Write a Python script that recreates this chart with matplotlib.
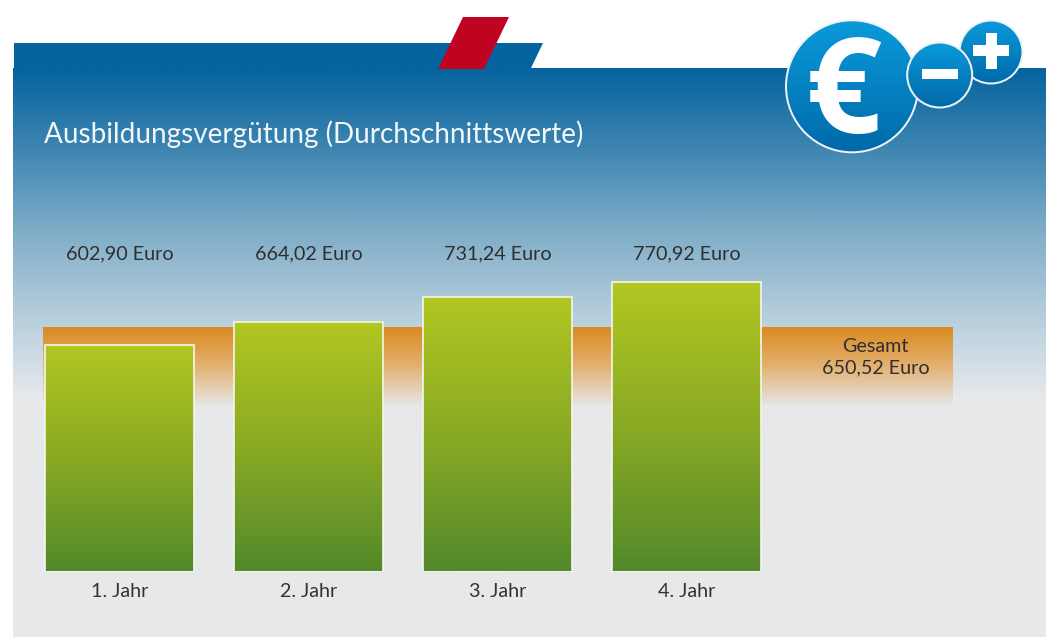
"""
Ausbildungsvergütung: Balken je Lehrjahr plus Gesamtwert als Band dahinter.
"""

import matplotlib
matplotlib.use("Agg")
import matplotlib.pyplot as plt
import numpy as np
from matplotlib import font_manager
from matplotlib.colors import LinearSegmentedColormap
from matplotlib.patches import Circle, Polygon, Rectangle

title = "Ausbildungsvergütung (Durchschnittswerte)"
jahre = ["1. Jahr", "2. Jahr", "3. Jahr", "4. Jahr"]
verguetung = [602.90, 664.02, 731.24, 770.92]
verguetung_txt = ["602,90 Euro", "664,02 Euro", "731,24 Euro", "770,92 Euro"]
gesamt = 650.52
gesamt_txt = "Gesamt\n650,52 Euro"

W, H = 1046, 637
PX_PRO_EURO = 0.3755
BASE_Y = 571.5

names = {f.name for f in font_manager.fontManager.ttflist}
FONT = "Liberation Sans Narrow" if "Liberation Sans Narrow" in names else "Lato"


def ramp(*colors):
    return LinearSegmentedColormap.from_list("r", colors)


def vgrad(ax, extent, cmap, zorder=1, clip=None):
    # senkrechter Verlauf, erste Farbe oben
    g = np.linspace(0, 1, 256).reshape(-1, 1)
    im = ax.imshow(g, extent=extent, cmap=cmap, aspect="auto", origin="upper",
                   zorder=zorder, interpolation="bilinear")
    if clip is not None:
        im.set_clip_path(clip)
    return im


def badge(ax, cx, cy, r, zorder):
    border = Circle((cx, cy), r, fc="#f0f2f3", ec="none", zorder=zorder)
    ax.add_patch(border)
    inner = Circle((cx, cy), r - 2, fc="none", ec="none", zorder=zorder, transform=ax.transData)
    ax.add_patch(inner)
    vgrad(ax, (cx - r, cx + r, cy + r, cy - r), ramp("#0a9bdc", "#0069a9"),
          zorder=zorder + 0.1, clip=inner)


fig = plt.figure(figsize=(W / 100, H / 100), dpi=100, facecolor="white")

# Hintergrund in Pixelkoordinaten
bg = fig.add_axes([0, 0, 1, 1])
bg.set_xlim(0, W)
bg.set_ylim(H, 0)
bg.axis("off")

bg.add_patch(Polygon([(14, 43), (543, 43), (531, 68), (14, 68)], fc="#05639f", ec="none", zorder=1))
vgrad(bg, (13, W, 395, 68), ramp("#05639f", "#3f86b1", "#7fadc8", "#b4cddc", "#e4e8eb"), zorder=1)
bg.add_patch(Rectangle((13, 395), W - 13, H - 395, fc="#e7e8ea", ec="none", zorder=1))
bg.add_patch(Polygon([(463, 17), (509, 17), (484, 69), (438, 69)], fc="#c10322", ec="none", zorder=2))

bg.text(44, 134, title, color="#f2f7fa", fontsize=20.1, family=FONT, va="center", ha="left", zorder=3)

badge(bg, 852, 86.3, 67, 4)
bg.text(843.5, 99, "€", color="white", fontsize=96, family="Open Sans", weight="bold",
        ha="center", va="center", zorder=5)
badge(bg, 991, 52, 32.5, 6)
bg.add_patch(Rectangle((973, 45), 36, 11, fc="white", ec="none", zorder=7))
bg.add_patch(Rectangle((986, 33), 10.5, 36, fc="white", ec="none", zorder=7))
badge(bg, 939.7, 75, 33.5, 8)
bg.add_patch(Rectangle((922, 68.7), 36, 10.5, fc="white", ec="none", zorder=9))
bg.set_xlim(0, W)
bg.set_ylim(H, 0)

# Diagramm: Euro-Skala mit Nulllinie an der Balkenunterkante
ax = fig.add_axes([25 / W, (H - BASE_Y) / H, 945 / W, BASE_Y / H], zorder=2)
ax.patch.set_alpha(0)
for s in ax.spines.values():
    s.set_visible(False)
x = np.arange(len(jahre))
ymax = BASE_Y / PX_PRO_EURO

# Gesamtwert als Band hinter den Balken
vgrad(ax, (-0.405, 4.405, 446, gesamt), ramp("#db8a20", "#e3b070", "#e6e4e0"), zorder=1)

bars = ax.bar(x, verguetung, width=0.788, fc="none", ec="#f4f7ec", lw=1.2, zorder=3)
for b in bars:
    vgrad(ax, (b.get_x(), b.get_x() + b.get_width(), 0, b.get_height()),
          ramp("#b2c722", "#8aaa24", "#53892b"), zorder=2)

ax.set_xlim(-0.5, 4.5)
ax.set_ylim(0, ymax)
ax.set_yticks([])
ax.set_xticks(x, jahre)
ax.tick_params(axis="x", length=0, pad=8, labelsize=14.2, labelcolor="#333333")
for t in ax.get_xticklabels():
    t.set_family(FONT)

for xi, txt in zip(x, verguetung_txt):
    ax.text(xi, 1 - 254 / BASE_Y, txt, transform=ax.get_xaxis_transform(), ha="center", va="center",
            fontsize=14.2, family=FONT, color="#2f2f2f")
ax.text(4.0, 1 - 357 / BASE_Y, gesamt_txt, transform=ax.get_xaxis_transform(), ha="center", va="center",
        fontsize=14.2, family=FONT, color="#2f2f2f", linespacing=1.3, zorder=4)

fig.savefig("out.png", dpi=100)
